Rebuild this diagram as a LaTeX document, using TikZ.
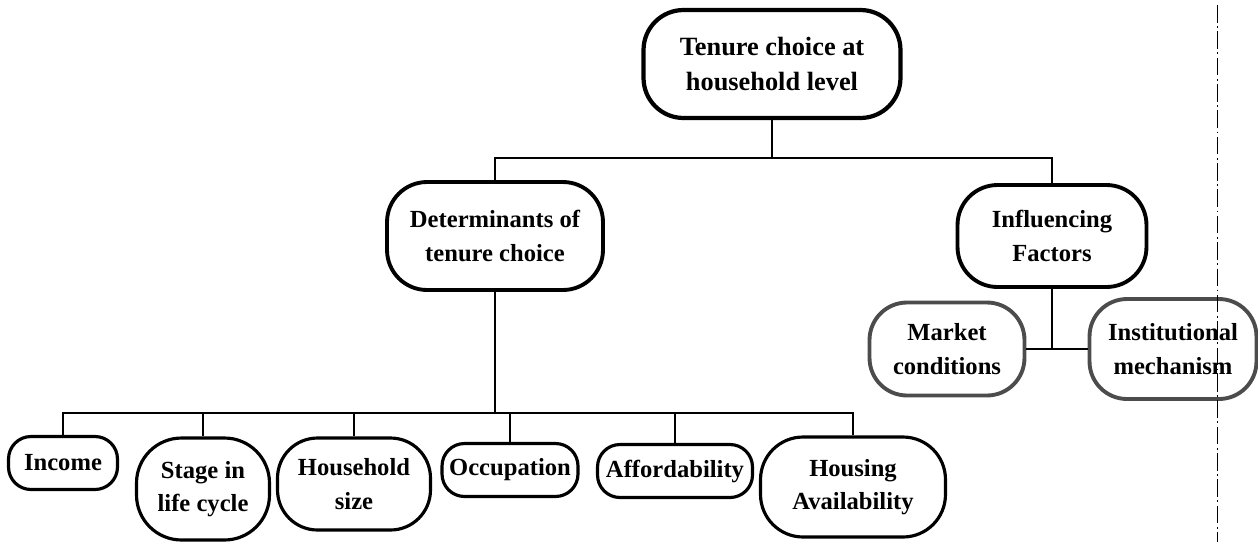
\documentclass[tikz,border=0pt]{standalone}
\usepackage{fontspec}
\setmainfont{Liberation Serif}
\begin{document}
\begin{tikzpicture}[x=0.02cm,y=-0.02cm,
        box/.style={draw, line width=1.8pt, align=center, inner sep=0pt,
            font=\bfseries\fontsize{14}{19}\selectfont},
        greybox/.style={box, draw=black!70, line width=2.2pt},
        link/.style={line width=0.6pt}]
    \useasboundingbox (0,0) rectangle (1258,542);

    \node[box, line width=2.4pt, rounded corners=0.8cm, minimum width=5.14cm, minimum height=2.16cm,
        font=\bfseries\fontsize{15}{20}\selectfont] (tenure) at (772,64) {Tenure choice at\\household level};
    \node[box, line width=2.2pt, rounded corners=0.8cm, minimum width=4.32cm, minimum height=2.16cm] (determ) at (495,236) {Determinants of\\tenure choice};
    \node[box, line width=2.2pt, rounded corners=0.8cm, minimum width=3.78cm, minimum height=2.04cm] (influ) at (1052,236) {Influencing\\Factors};

    \node[greybox, rounded corners=0.75cm, minimum width=3.1cm, minimum height=1.86cm] (market) at (947,349) {Market\\conditions};
    \node[greybox, rounded corners=0.75cm, minimum width=3.34cm, minimum height=2cm] (instit) at (1173,349) {Institutional\\mechanism};

    \node[box, rounded corners=0.45cm, minimum width=2.18cm, minimum height=1.06cm] (income) at (63,463) {Income};
    \node[box, rounded corners=0.9cm, minimum width=2.66cm, minimum height=2.04cm] (stage) at (203,489) {Stage in\\life cycle};
    \node[box, rounded corners=0.8cm, minimum width=3.06cm, minimum height=1.84cm] (hsize) at (354,484) {Household\\size};
    \node[box, rounded corners=0.45cm, minimum width=2.72cm, minimum height=1.06cm] (occup) at (510,470) {Occupation};
    \node[box, rounded corners=0.45cm, minimum width=3.1cm, minimum height=1.06cm] (afford) at (675,471) {Affordability};
    \node[box, rounded corners=0.85cm, minimum width=3.7cm, minimum height=2cm] (havail) at (853,487) {Housing\\Availability};

    \coordinate (tbus) at (772,158);
    \coordinate (dbus) at (495,413);
    \coordinate (fbus) at (1052,349);

    \begin{scope}[link]
        \draw (tenure) -- (tbus);
        \draw (tbus) -| (determ.north);
        \draw (tbus) -| (influ.north);
        \draw[line width=1.1pt] (determ) -- (dbus);
        \foreach \n in {income, stage, hsize, occup, afford, havail}
            \draw (dbus) -| (\n.north);
        \draw (influ) -- (fbus);
        \draw (fbus) -- (market.east);
        \draw (fbus) -- (instit.west);
    \end{scope}

    \draw[line width=0.5pt, dash pattern=on 10pt off 2pt on 1pt off 2pt] (1217,5) -- (1217,542);
\end{tikzpicture}
\end{document}
